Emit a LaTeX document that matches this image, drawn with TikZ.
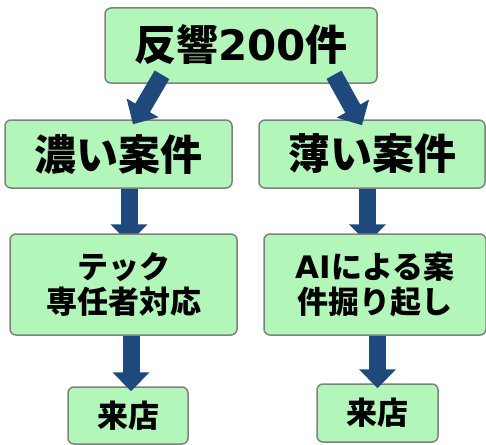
\documentclass[tikz,border=0pt]{standalone}
\usepackage{fontspec}
\setmainfont{Noto Sans CJK JP}
\newfontfamily\lat{DejaVu Sans}
\usetikzlibrary{arrows.meta,backgrounds}
\definecolor{boxfill}{RGB}{178,247,185}
\definecolor{boxline}{RGB}{128,128,128}
\definecolor{arrowblue}{RGB}{31,73,125}
\tikzset{
  box/.style={draw=boxline, fill=boxfill, line width=1.5pt, rounded corners=6pt,
    inner sep=0pt, align=center, font=\bfseries},
  barrow/.style={draw=arrowblue, line width=17pt, -{Triangle[width=36pt,length=19pt]}}
}
\begin{document}
\begin{tikzpicture}[x=1pt,y=-1pt]
\useasboundingbox (0,0) rectangle (486,444);
\node[box, minimum width=272pt, minimum height=75pt, font=\bfseries\fontsize{42}{46}\selectfont] (top) at (241,45.5) {\raisebox{5pt}{反響{\lat\bfseries 200}件}};
\node[box, minimum width=227pt, minimum height=68pt, font=\bfseries\fontsize{42}{46}\selectfont] (ml) at (118.5,154) {濃い案件};
\node[box, minimum width=226pt, minimum height=68pt, font=\bfseries\fontsize{42}{46}\selectfont] (mr) at (372,154) {薄い案件};
\node[box, minimum width=227pt, minimum height=101pt, font=\bfseries\fontsize{31}{35}\selectfont] (bl) at (123.5,284.5) {テック\\専任者対応};
\node[box, minimum width=222pt, minimum height=101pt, font=\bfseries\fontsize{31}{35}\selectfont] (br) at (375,284.5) {{\lat\bfseries AI}による案\\件掘り起し};
\node[box, minimum width=120pt, minimum height=57pt, font=\bfseries\fontsize{31}{34}\selectfont] (ll) at (128,415.5) {来店};
\node[box, minimum width=121pt, minimum height=58pt, font=\bfseries\fontsize{31}{34}\selectfont] (lr) at (377.5,413) {来店};
% arrows
\draw[barrow] ([shift={(-79,-9)}]top.south) -- ([shift={(14.5,5)}]ml.north);
\draw[barrow] ([shift={(93,-9)}]top.south) -- ([shift={(-10,6)}]mr.north);
\begin{scope}[on background layer]
\draw[barrow] ([shift={(10.5,-5)}]ml.south) -- ([shift={(5.5,10)}]bl.north);
\draw[barrow] ([shift={(-4.5,-5)}]mr.south) -- ([shift={(-7.5,10)}]br.north);
\end{scope}
\draw[barrow] ([shift={(7.5,0)}]bl.south) -- ([shift={(3,5)}]ll.north);
\draw[barrow] ([shift={(2.5,0)}]br.south) -- ([shift={(0,5)}]lr.north);
\end{tikzpicture}
\end{document}
